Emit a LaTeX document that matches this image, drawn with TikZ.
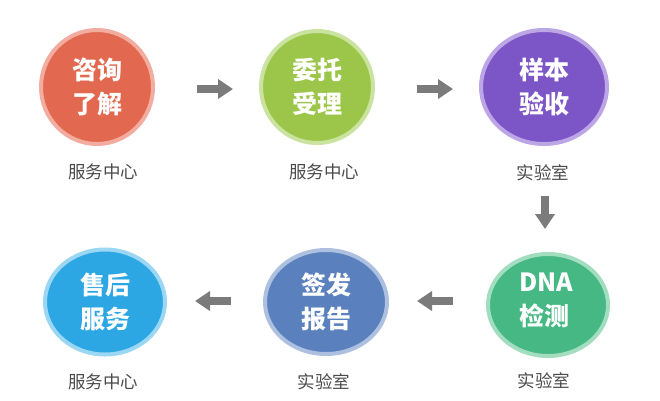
\documentclass[tikz,border=0pt]{standalone}
\usepackage{fontspec}
\setmainfont{Noto Sans CJK SC}
\newfontfamily\cjk{Noto Sans CJK SC}
\usetikzlibrary{arrows.meta,shapes.geometric}
\definecolor{cA}{HTML}{E2694F}\definecolor{rA}{HTML}{F2ADA0}
\definecolor{cB}{HTML}{9BC64A}\definecolor{rB}{HTML}{CBE3A0}
\definecolor{cC}{HTML}{7C56C6}\definecolor{rC}{HTML}{BCA6E6}
\definecolor{cD}{HTML}{45B884}\definecolor{rD}{HTML}{A2DDC0}
\definecolor{cE}{HTML}{5A80BE}\definecolor{rE}{HTML}{AEC0E0}
\definecolor{cF}{HTML}{2CA7E3}\definecolor{rF}{HTML}{9BD6F3}
\definecolor{arr}{HTML}{7B7B7B}
\definecolor{lab}{HTML}{4A4A4A}
\tikzset{
  ring/.style args={#1/#2/#3/#4}{ellipse,minimum width=#3,minimum height=#4,inner sep=0pt,fill=#1,draw=#2,line width=4pt},
  intxt/.style={text=white,font=\cjk\bfseries\fontsize{25}{34}\selectfont,align=center},
  labtxt/.style={text=lab,font=\cjk\fontsize{17.5}{20}\selectfont},
  blockarrow/.style={draw=arr,line width=8pt,-{Triangle[length=15pt,width=19pt]}}
}
\begin{document}
\begin{tikzpicture}[x=1pt,y=-1pt]
\useasboundingbox (0,0) rectangle (660,400);
% top row
\node[ring={cA/rA/112pt/114pt}] (c1) at (97,87) {};
\node[ring={cB/rB/112pt/112pt}] (c2) at (317,87) {};
\node[ring={cC/rC/126pt/114pt}] (c3) at (544,87) {};
% bottom row
\node[ring={cD/rD/120pt/102pt}] (c4) at (548,305) {};
\node[ring={cE/rE/122pt/104pt}] (c5) at (326,302) {};
\node[ring={cF/rF/120pt/105pt}] (c6) at (105,302) {};
% circle texts
\node[intxt] (t1) at (c1) {咨询\\了解};
\node[intxt] (t2) at (c2) {委托\\受理};
\node[intxt] (t3) at (c3) {样本\\验收};
\node[intxt,align=left] (t4) at (546,300) {DNA\\检测};
\node[intxt] (t5) at (c5) {签发\\报告};
\node[intxt] (t6) at (c6) {售后\\服务};
% labels
\node[labtxt] (l1) at (103,172) {服务中心};
\node[labtxt] (l2) at (324,172) {服务中心};
\node[labtxt] (l3) at (543,173) {实验室};
\node[labtxt] (l4) at (544,381) {实验室};
\node[labtxt] (l5) at (324,382) {实验室};
\node[labtxt] (l6) at (103,382) {服务中心};
% arrows
\coordinate (a1s) at (197,89); \coordinate (a1e) at (233,89);
\coordinate (a2s) at (417,89); \coordinate (a2e) at (453,89);
\coordinate (a3s) at (545,196); \coordinate (a3e) at (545,229);
\coordinate (a4s) at (453,301); \coordinate (a4e) at (417,301);
\coordinate (a5s) at (231,301); \coordinate (a5e) at (195,301);
\draw[blockarrow] (a1s) -- (a1e);
\draw[blockarrow] (a2s) -- (a2e);
\draw[blockarrow] (a3s) -- (a3e);
\draw[blockarrow] (a4s) -- (a4e);
\draw[blockarrow] (a5s) -- (a5e);
\end{tikzpicture}
\end{document}
